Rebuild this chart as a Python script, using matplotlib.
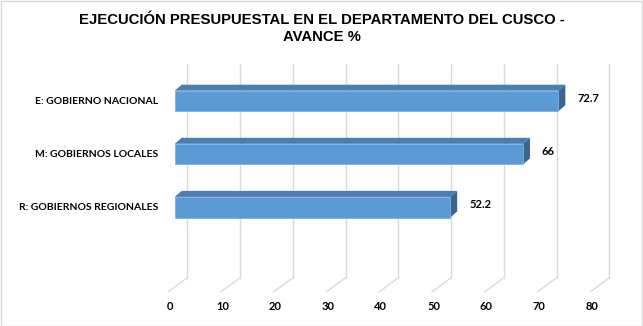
import numpy as np
import matplotlib
matplotlib.use("Agg")
import matplotlib.pyplot as plt
from matplotlib.patches import Polygon, Rectangle

# data
categories = ["E: GOBIERNO NACIONAL", "M: GOBIERNOS LOCALES", "R: GOBIERNOS REGIONALES"]
values = [72.7, 66, 52.2]
value_labels = ["72.7", "66", "52.2"]
ticks = [0, 10, 20, 30, 40, 50, 60, 70, 80]
title = "EJECUCIÓN PRESUPUESTAL EN EL DEPARTAMENTO DEL CUSCO -\nAVANCE %"

W, H = 643, 326
fig = plt.figure(figsize=(W / 100, H / 100), dpi=100)
ax = fig.add_axes([0, 0, 1, 1])

# pixel scale of the plot (value units / category units)
sx = 5.277          # px per value unit
sy = 53.1           # px per category step
x0 = 174.7          # px of value 0 at bar front
y0 = 101.0          # px of first category centre
ax.set_xlim(-x0 / sx, (W - x0) / sx)
ax.set_ylim((H - y0) / sy, -y0 / sy)
ax.axis("off")

def px(p):
    return p / sx

def py(p):
    return p / sy

# 3d grid: front floor edge, diagonal, back wall
front_dx, front_y = px(-6.4), py(291.7 - y0)
back_dx, back_y = px(12.6), py(277.7 - y0)
top_y = py(64 - y0)
grid_c = "#dadada"
for t in ticks:
    ax.plot([t + front_dx, t + back_dx], [front_y, back_y], color=grid_c, lw=1, zorder=1)
    ax.plot([t + back_dx, t + back_dx], [back_y, top_y], color=grid_c, lw=1, zorder=1)
    ax.text(t + front_dx + px(1.5), py(307 - y0), str(t), ha="center", va="center",
            fontsize=8, fontweight="bold", family="Lato", color="#000000")

# bars with depth
ypos = np.arange(len(values))
bh = py(20.6)
ddx, ddy = px(7), py(-6)
front_c = "#5b9bd5"
top_c = "#4a7db0"
side_c = "#3b6590"
ax.barh(ypos, values, height=bh, color=front_c, edgecolor="#7fb0de", lw=0.6, zorder=3)
for y, v in zip(ypos, values):
    t = y - bh / 2
    b = y + bh / 2
    ax.add_patch(Polygon([(0, t), (v, t), (v + ddx, t + ddy), (ddx, t + ddy)],
                         closed=True, facecolor=top_c, lw=0, zorder=2))
    ax.add_patch(Polygon([(v, t), (v, b), (v + ddx, b + ddy), (v + ddx, t + ddy)],
                         closed=True, facecolor=side_c, lw=0, zorder=2))

for y, v, lab in zip(ypos, values, value_labels):
    ax.text(v + px(19), y - py(2.5), lab, ha="left", va="center",
            fontsize=8, fontweight="bold", family="Lato")

for y, c in zip(ypos, categories):
    ax.text(-x0 / sx + px(158), y, c, ha="right", va="center",
            fontsize=7.5, fontweight="bold", family="Lato")

fig.text(0.5, 1 - 28.5 / H, title, ha="center", va="center", fontsize=10.7,
         fontweight="bold", family="Liberation Sans", linespacing=1.3)

# outer frame
fig.patches.append(Rectangle((0.5 / W, 0.5 / H), 1 - 1.5 / W, 1 - 1.5 / H,
                             transform=fig.transFigure, fill=False,
                             edgecolor="#d9d9d9", lw=1))

fig.savefig("out.png", dpi=100)
